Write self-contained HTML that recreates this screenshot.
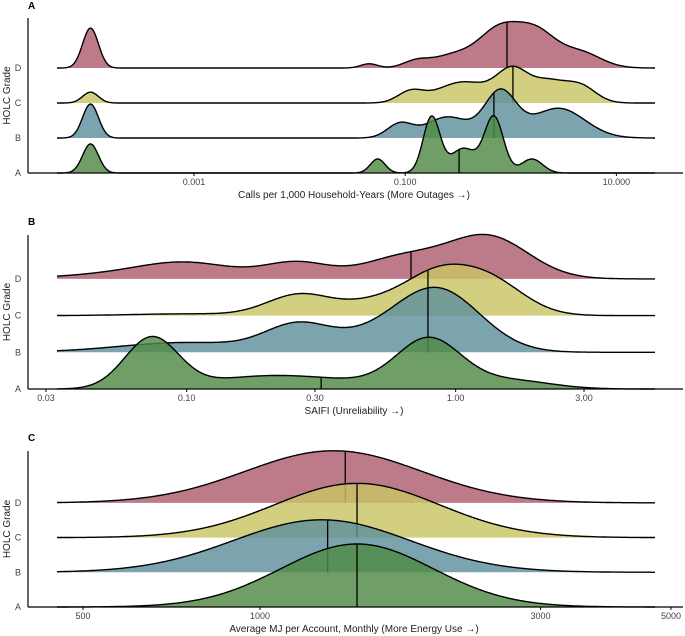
<!DOCTYPE html>
<html><head><meta charset="utf-8"><style>
body{margin:0;background:#fff}
svg{display:block;font-family:"Liberation Sans",sans-serif}
.tk{font-size:9px;fill:#444}
.ttl{font-size:10px;fill:#222}
.pl{font-size:10px;font-weight:bold;fill:#000}
</style></head><body>
<svg id="chart" width="685" height="636" viewBox="0 0 685 636"></svg>
<script>
// ---- data (log10 space gaussian mixture components: [mu, sd, height in row units]) ----
const grades = ["A","B","C","D"];
const colors = {A:"#4f8a45",B:"#5f909c",C:"#c9c565",D:"#ae5d6f"};

const aComps = {
  D:[[-3.98,0.075,1.14],[-1.34,0.08,0.12],[-0.9,0.12,0.18],[-0.55,0.2,0.35],[-0.1,0.2,1.1],[0.25,0.18,0.9],[0.65,0.2,0.45]],
  C:[[-3.98,0.075,0.31],[-0.95,0.12,0.3],[-0.45,0.25,0.6],[0.02,0.15,0.9],[0.35,0.15,0.55],[0.65,0.15,0.5]],
  B:[[-3.98,0.075,0.97],[-1.05,0.12,0.4],[-0.6,0.2,0.6],[-0.1,0.15,1.3],[0.45,0.25,0.85]],
  A:[[-3.98,0.075,0.83],[-1.26,0.07,0.4],[-0.75,0.08,1.6],[-0.45,0.12,0.7],[-0.16,0.09,1.6],[0.2,0.1,0.4]]
};
const aMeans = {D:-0.036,C:0.02,B:-0.16,A:-0.49};
const aTicks = [0.001,0.1,10];
const aTickLabels = ["0.001","0.100","10.000"];

const bComps = {
  D:[[-1.3,0.2,0.1],[-1.0,0.18,0.45],[-0.59,0.12,0.45],[-0.2,0.15,0.6],[0.12,0.15,1.2]],
  C:[[-1.0,0.2,0.05],[-0.58,0.12,0.6],[-0.3,0.12,0.35],[-0.08,0.12,1.0],[0.12,0.13,1.0]],
  B:[[-1.0,0.25,0.28],[-0.59,0.12,0.7],[-0.35,0.15,0.3],[-0.07,0.16,1.8]],
  A:[[-1.13,0.1,1.45],[-0.75,0.2,0.3],[-0.45,0.2,0.2],[-0.1,0.12,1.4],[0.2,0.15,0.25]]
};
const bMeans = {D:-0.166,C:-0.103,B:-0.103,A:-0.5};
const bTicks = [0.03,0.1,0.3,1,3];
const bTickLabels = ["0.03","0.10","0.30","1.00","3.00"];

const cComps = {
  D:[[3.125,0.15,1.49]],
  C:[[3.165,0.14,1.55]],
  B:[[3.105,0.15,1.5]],
  A:[[3.165,0.13,1.8]]
};
const cMeans = {D:3.145,C:3.165,B:3.115,A:3.165};
const cTicks = [500,1000,3000,5000];
const cTickLabels = ["500","1000","3000","5000"];

// ---- drawing ----
const NS="http://www.w3.org/2000/svg";
const svg=document.getElementById('chart');
function mk(tag,attrs,parent){const e=document.createElementNS(NS,tag);for(const k in attrs)e.setAttribute(k,attrs[k]);(parent||svg).appendChild(e);return e;}
function dens(comps,l){let s=0;for(const c of comps)s+=c[2]*Math.exp(-0.5*((l-c[0])/c[1])**2);return s;}

function panel(cfg){
  const g=mk('g',{});
  
  
  const xs=l=>cfg.x0+cfg.ppd*(l-cfg.l0);
  const inv=x=>cfg.l0+(x-cfg.x0)/cfg.ppd;
  const rowH=35;
  const base=gr=>cfg.yA-grades.indexOf(gr)*cfg.gap;
  ["D","C","B","A"].forEach(gr=>{
    const by=base(gr);const comps=cfg.comps[gr];
    let pts=[];
    for(let x=57;x<=655;x+=1){pts.push([x,by-dens(comps,inv(x))*rowH]);}
    const line=pts.map((p,i)=>(i?'L':'M')+p[0].toFixed(1)+','+p[1].toFixed(1)).join('');
    const area=mk('path',{d:line+'L655,'+by+'L57,'+by+'Z',fill:colors[gr],'fill-opacity':0.82,stroke:'none'},g);
    
    
    const ln=mk('path',{d:line,fill:'none',stroke:'#000','stroke-width':1.4},g);
    
    
    const m=cfg.means[gr];const mx=xs(m);
    const ml=mk('line',{x1:mx,x2:mx,y1:by,y2:by-dens(comps,m)*rowH,stroke:'#000','stroke-width':1.3},g);
    
    
  });
  const ya=mk('line',{x1:28,x2:28,y1:cfg.yTop,y2:cfg.yA,stroke:'#000','stroke-width':1.2},g);
  
  const xa=mk('line',{x1:28,x2:683,y1:cfg.yA,y2:cfg.yA,stroke:'#000','stroke-width':1.2},g);
  
  grades.forEach(gr=>{
    const t=mk('text',{x:18,y:base(gr)+3,'text-anchor':'middle',class:'tk'},g);t.textContent=gr;
    
  });
  cfg.ticks.forEach((v,i)=>{
    const x=xs(Math.log10(v));
    const tl=mk('line',{x1:x,x2:x,y1:cfg.yA,y2:cfg.yA+3,stroke:'#000'},g);
    
    const t=mk('text',{x:x,y:cfg.yA+12,'text-anchor':'middle',class:'tk'},g);t.textContent=cfg.tickLabels[i];
    
  });
  const xt=mk('text',{x:354,y:cfg.yA+25,'text-anchor':'middle',class:'ttl'},g);xt.textContent=cfg.title;
  
  const cy=(cfg.yTop+cfg.yA)/2;
  const yt=mk('text',{x:10,y:cy,'text-anchor':'middle',class:'ttl',transform:'rotate(-90 10 '+cy+')'},g);yt.textContent='HOLC Grade';
  
  const pl=mk('text',{x:28,y:cfg.letterY,class:'pl'},g);pl.textContent=cfg.letter;
  
}

panel({name:'panel-a-outages',letter:'A',letterY:9,comps:aComps,means:aMeans,ticks:aTicks,tickLabels:aTickLabels,
  x0:194,l0:-3,ppd:105.6,yA:173,gap:35,yTop:18,title:'Calls per 1,000 Household-Years (More Outages →)'});
panel({name:'panel-b-saifi',letter:'B',letterY:225,comps:bComps,means:bMeans,ticks:bTicks,tickLabels:bTickLabels,
  x0:46,l0:Math.log10(0.03),ppd:269,yA:389,gap:36.7,yTop:235,title:'SAIFI (Unreliability →)'});
panel({name:'panel-c-energy',letter:'C',letterY:441,comps:cComps,means:cMeans,ticks:cTicks,tickLabels:cTickLabels,
  x0:83,l0:Math.log10(500),ppd:588,yA:607,gap:34.7,yTop:451,title:'Average MJ per Account, Monthly (More Energy Use →)'});
</script>
</body></html>
